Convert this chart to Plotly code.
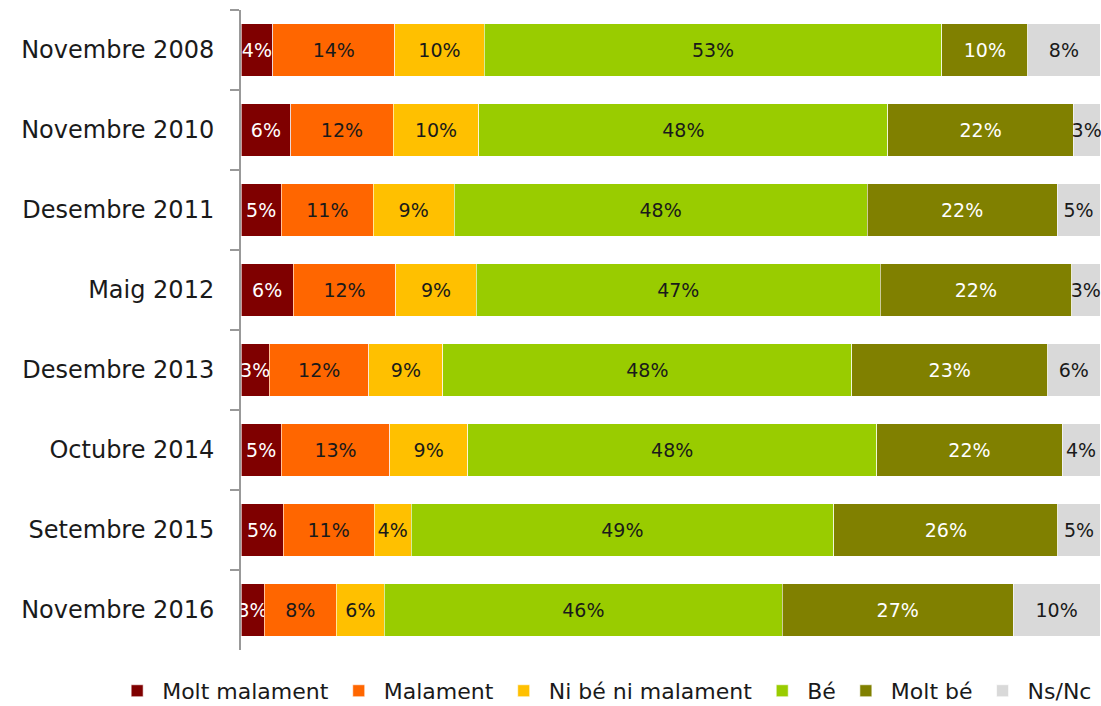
import plotly.graph_objects as go

categories = ["Novembre 2008", "Novembre 2010", "Desembre 2011", "Maig 2012",
              "Desembre 2013", "Octubre 2014", "Setembre 2015", "Novembre 2016"]

molt_malament = [3.7, 5.8, 4.7, 6.1, 3.3, 4.7, 4.9, 2.7]
malament      = [14.2, 11.9, 10.7, 11.9, 11.6, 12.6, 10.6, 8.4]
ni_be         = [10.4, 10.0, 9.4, 9.4, 8.6, 9.1, 4.3, 5.6]
be            = [53.3, 47.6, 48.1, 47.0, 47.6, 47.6, 49.2, 46.3]
molt_be       = [10.0, 21.6, 22.1, 22.3, 22.8, 21.6, 26.1, 26.9]
ns_nc         = [8.4, 3.1, 5.0, 3.3, 6.1, 4.4, 4.9, 10.1]

series = [
    ("Molt malament", molt_malament, "#7F0000", "white"),
    ("Malament", malament, "#FF6600", "#1a1a1a"),
    ("Ni bé ni malament", ni_be, "#FFC000", "#1a1a1a"),
    ("Bé", be, "#99CC00", "#1a1a1a"),
    ("Molt bé", molt_be, "#808000", "white"),
    ("Ns/Nc", ns_nc, "#D9D9D9", "#1a1a1a"),
]

FONT = "DejaVu Sans"

fig = go.Figure()
for name, vals, color, tcolor in series:
    fig.add_trace(go.Bar(
        name=name, y=categories, x=vals, orientation="h",
        marker=dict(color=color, line=dict(color="rgba(255,255,255,0.6)", width=1)),
        texttemplate="%{x:.0f}%", textposition="inside", insidetextanchor="middle",
        constraintext="none", textangle=0, cliponaxis=False,
        textfont=dict(family=FONT, size=19, color=tcolor),
    ))

fig.update_layout(
    barmode="stack", bargap=0.34,
    width=1101, height=706,
    margin=dict(l=241, r=1, t=10, b=56, autoexpand=False),
    paper_bgcolor="white", plot_bgcolor="white",
    font=dict(family=FONT, size=20, color="#1a1a1a"),
    showlegend=True,
    legend=dict(orientation="h", x=-0.15, xanchor="left", y=-0.064, yanchor="middle",
                font=dict(family=FONT, size=22, color="#1a1a1a"),
                traceorder="normal", itemwidth=40),
    xaxis=dict(range=[0, 100], visible=False),
    yaxis=dict(autorange="reversed", showline=True, linecolor="#999999", linewidth=2,
               ticks="outside", tickson="boundaries", ticklen=9, tickcolor="#999999",
               tickwidth=2, showgrid=False, ticklabelstandoff=20,
               tickfont=dict(family=FONT, size=24, color="#1a1a1a")),
    uniformtext=dict(mode=False),
)

fig.write_html("out.html", config={"displayModeBar": False},
               post_script="document.body.style.margin='0';document.body.style.overflow='hidden';")
